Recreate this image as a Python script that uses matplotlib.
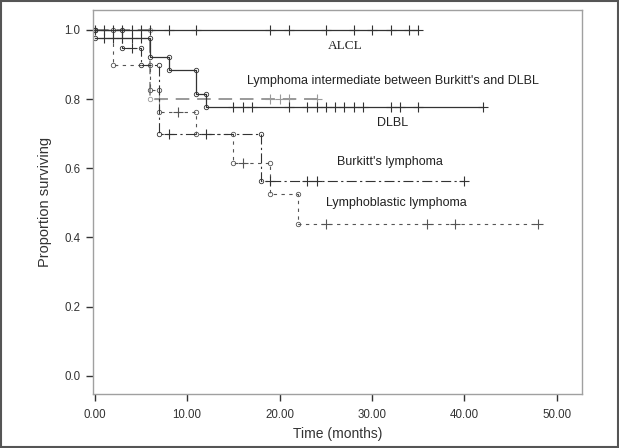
import numpy as np
import matplotlib
matplotlib.use("Agg")
import matplotlib.pyplot as plt
from matplotlib.patches import Rectangle

plt.rcParams['font.family'] = ['Liberation Sans', 'DejaVu Sans']

# Kaplan-Meier curves (months, proportion surviving)
alcl_start = 1.0
alcl_events = []
alcl_surv = []
alcl_end = 35
alcl_censor = [0, 1, 2, 3, 4, 5, 6, 8, 11, 19, 21, 25, 28, 30, 32, 34, 35]

dlbl_start = 0.978
dlbl_events = [6, 8, 11, 12]
dlbl_surv = [0.921, 0.884, 0.815, 0.778]
dlbl_end = 42
dlbl_censor = [1, 2, 3, 4, 5, 15, 16, 17, 21, 23, 24, 25, 26, 27, 28, 29, 32, 33, 35, 42]

inter_start = 1.0
inter_events = [6]
inter_surv = [0.80]
inter_end = 24
inter_censor = [7, 19, 20, 21, 24]

burkitt_start = 1.0
burkitt_events = [3, 5, 7, 18]
burkitt_surv = [0.949, 0.90, 0.70, 0.562]
burkitt_end = 40
burkitt_censor = [4, 8, 12, 19, 23, 24, 40]

lbl_start = 1.0
lbl_events = [2, 6, 7, 11, 15, 19, 22]
lbl_surv = [0.90, 0.826, 0.763, 0.70, 0.616, 0.526, 0.44]
lbl_end = 48
lbl_censor = [9, 16, 25, 36, 39, 48]

labels = ["ALCL", "Lymphoma intermediate between Burkitt's and DLBL", "DLBL",
          "Burkitt's lymphoma", "Lymphoblastic lymphoma"]


def km_path(start, events, surv, end):
    xs, ys = [0], [start]
    cur = start
    for t, s in zip(events, surv):
        xs += [t, t]
        ys += [cur, s]
        cur = s
    xs.append(end)
    ys.append(cur)
    return xs, ys


def surv_at(t, start, events, surv):
    idx = np.searchsorted(events, t, side='right')
    return start if idx == 0 else surv[idx - 1]


def draw_curve(ax, start, events, surv, end, censor, color, ls, lw):
    xs, ys = km_path(start, events, surv, end)
    ax.plot(xs, ys, color=color, linestyle=ls, linewidth=lw)
    # censor marks
    cy = [surv_at(t, start, events, surv) for t in censor]
    ax.plot(censor, cy, linestyle='none', marker='+', markersize=6.5,
            markeredgewidth=0.8, color=color)
    # small circles at step corners
    ex, ey = [0], [start]
    cur = start
    for t, s in zip(events, surv):
        ex += [t, t]
        ey += [cur, s]
        cur = s
    ax.plot(ex, ey, linestyle='none', marker='o', markersize=3.2,
            fillstyle='none', markeredgewidth=0.6, color=color)


fig = plt.figure(figsize=(6.19, 4.48), dpi=100)
ax = fig.add_axes([0.150, 0.121, 0.790, 0.857])

draw_curve(ax, inter_start, inter_events, inter_surv, inter_end, inter_censor,
           '#9a9a9a', (0, (7, 4)), 1.4)
draw_curve(ax, lbl_start, lbl_events, lbl_surv, lbl_end, lbl_censor,
           '#555555', (0, (3, 4)), 0.8)
draw_curve(ax, burkitt_start, burkitt_events, burkitt_surv, burkitt_end, burkitt_censor,
           '#333333', (0, (2, 3, 9, 3)), 0.8)
draw_curve(ax, dlbl_start, dlbl_events, dlbl_surv, dlbl_end, dlbl_censor,
           '#333333', '-', 0.9)
draw_curve(ax, alcl_start, alcl_events, alcl_surv, alcl_end, alcl_censor,
           '#333333', '-', 0.9)

ax.text(27.1, 0.953, labels[0], family='Liberation Serif', fontsize=9.5,
        ha='center', va='center', color='#222222')
ax.text(32.3, 0.851, labels[1], fontsize=9, ha='center', va='center', color='#222222')
ax.text(32.2, 0.732, labels[2], fontsize=9, ha='center', va='center', color='#222222')
ax.text(31.9, 0.619, labels[3], fontsize=9, ha='center', va='center', color='#222222')
ax.text(32.6, 0.501, labels[4], fontsize=9, ha='center', va='center', color='#222222')

ax.set_xlim(-0.2, 52.7)
ax.set_ylim(-0.052, 1.058)
ax.set_xticks(np.arange(0, 51, 10))
ax.set_xticklabels(['%.2f' % v for v in np.arange(0, 51, 10)])
ax.set_yticks(np.arange(0, 1.01, 0.2))
ax.set_yticklabels(['%.1f' % v for v in np.arange(0, 1.01, 0.2)])
ax.tick_params(direction='out', length=5, width=1, color='#333333',
               labelsize=8.3, labelcolor='#333333')
ax.tick_params(axis='x', pad=6)
ax.tick_params(axis='y', pad=4)
for sp in ax.spines.values():
    sp.set_color('#a0a0a0')
    sp.set_linewidth(1)

ax.set_xlabel('Time (months)', fontsize=10, color='#333333', labelpad=4)
ax.set_ylabel('Proportion surviving', fontsize=10.5, color='#333333', labelpad=9)

fig.patches.append(Rectangle((0.002, 0.002), 0.996, 0.996, transform=fig.transFigure,
                             fill=False, edgecolor='#555555', linewidth=1.5))

fig.savefig('out.png', dpi=100)
